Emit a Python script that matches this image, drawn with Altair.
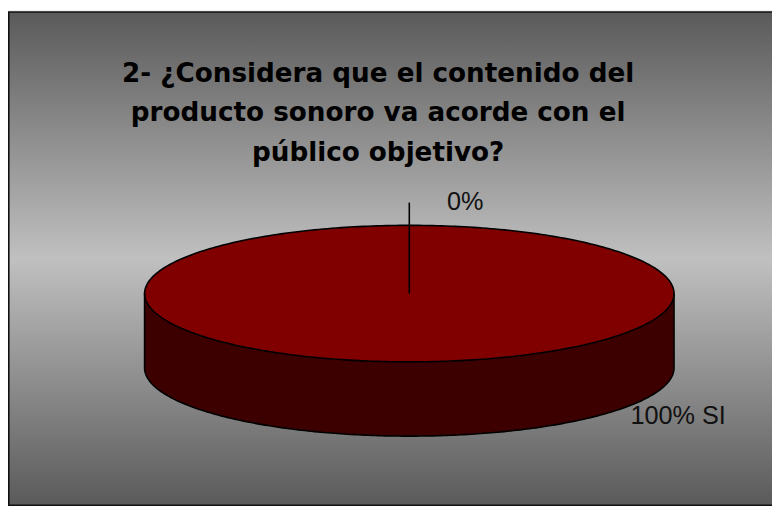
import numpy as np
import pandas as pd
import altair as alt

# ---------------- data ----------------
categories = ["SI", "NO"]
values = [100, 0]
labels = ["100% SI", "0%"]
title_lines = [
    "2- ¿Considera que el contenido del",
    "producto sonoro va acorde con el",
    "público objetivo?",
]

# ---------------- layout / style ----------------
W, H = 772, 498
CX, CY, RX, RY, DEPTH = 405.5, 286.0, 267.5, 69.0, 75.0
TOP_COLORS = {"SI": "#800000", "NO": "#800000"}
SIDE_COLORS = {"SI": "#3c0000", "NO": "#3c0000"}
LABEL_POS = {"SI": (629, 418, "left"), "NO": (462, 202, "center")}
LEADER_EXT = 23

total = float(sum(values))
starts, ends, acc = [], [], 0.0
for v in values:
    starts.append(acc / total * 360.0)
    acc += v
    ends.append(acc / total * 360.0)

xs = alt.Scale(domain=[0, W], nice=False, zero=False)
ys = alt.Scale(domain=[0, H], nice=False, zero=False, reverse=True)

top_rows, side_rows, outline_rows, leader_rows, label_rows = [], [], [], [], []
for cat, s, e, lab in zip(categories, starts, ends, labels):
    sweep = e - s
    if sweep > 0:
        if sweep >= 360:
            th = np.linspace(0, np.pi, 241)
            u = -np.cos(th)
            half = np.sqrt(np.clip(1 - u ** 2, 0, None))
            for ui, hi in zip(u, half):
                top_rows.append({"cat": cat, "fill": TOP_COLORS[cat], "x": CX + RX * ui,
                                 "y": CY - RY * hi, "y2": CY + RY * hi})
            phis = np.linspace(0, 360, 361)
            for k, p in enumerate(phis):
                r = np.radians(p)
                outline_rows.append({"grp": "top", "o": k,
                                     "x": CX + RX * np.sin(r),
                                     "y": CY - RY * np.cos(r)})
        a0, a1 = max(s, 90.0), min(e, 270.0)
        if a1 > a0:
            ph = np.linspace(a0, a1, 241)
            for p in ph:
                r = np.radians(p)
                yt = CY - RY * np.cos(r)
                side_rows.append({"cat": cat, "fill": SIDE_COLORS[cat],
                                  "x": CX + RX * np.sin(r), "y": yt, "y2": yt + DEPTH})
            k = 0
            r0 = np.radians(a0)
            outline_rows.append({"grp": "side", "o": k, "x": CX + RX * np.sin(r0),
                                 "y": CY - RY * np.cos(r0)}); k += 1
            for p in ph:
                r = np.radians(p)
                outline_rows.append({"grp": "side", "o": k, "x": CX + RX * np.sin(r),
                                     "y": CY - RY * np.cos(r) + DEPTH}); k += 1
            r1 = np.radians(a1)
            outline_rows.append({"grp": "side", "o": k, "x": CX + RX * np.sin(r1),
                                 "y": CY - RY * np.cos(r1)})
    else:
        r = np.radians(s)
        leader_rows.append({"x": CX + (RX + LEADER_EXT) * np.sin(r),
                            "y": CY - (RY + LEADER_EXT) * np.cos(r),
                            "x2": CX, "y2": CY})
    lx, ly, al = LABEL_POS[cat]
    label_rows.append({"cat": cat, "text": lab, "x": lx, "y": ly, "align": al})

top_df = pd.DataFrame(top_rows)
side_df = pd.DataFrame(side_rows)
outline_df = pd.DataFrame(outline_rows)
leader_df = pd.DataFrame(leader_rows)
label_df = pd.DataFrame(label_rows)
title_df = pd.DataFrame({"text": title_lines, "i": range(len(title_lines))})
title_df["x"] = 374
title_df["y"] = 72 + 40 * title_df["i"]

grad = alt.Gradient(
    gradient="linear",
    stops=[alt.GradientStop(color="#5a5a5a", offset=0),
           alt.GradientStop(color="#c0c0c0", offset=0.5),
           alt.GradientStop(color="#5a5a5a", offset=1)],
    x1=0, x2=0, y1=0, y2=1,
)

bg = alt.Chart(pd.DataFrame({"a": [0]})).mark_rect(
    fill=grad, stroke="#111111", strokeWidth=1.6
).encode(x=alt.value(0.8), x2=alt.value(W + 20), y=alt.value(1.5), y2=alt.value(H + 2))

side = alt.Chart(side_df).mark_area(strokeWidth=0).encode(
    x=alt.X("x:Q", scale=xs, axis=None),
    y=alt.Y("y:Q", scale=ys, axis=None),
    y2="y2:Q",
    fill=alt.Fill("fill:N", scale=None),
)
top = alt.Chart(top_df).mark_area(strokeWidth=0).encode(
    x=alt.X("x:Q", scale=xs, axis=None),
    y=alt.Y("y:Q", scale=ys, axis=None),
    y2="y2:Q",
    fill=alt.Fill("fill:N", scale=None),
)
outline = alt.Chart(outline_df).mark_line(color="#000000", strokeWidth=1.6).encode(
    x=alt.X("x:Q", scale=xs, axis=None),
    y=alt.Y("y:Q", scale=ys, axis=None),
    detail="grp:N",
    order="o:Q",
)
layers = [bg, side, top, outline]
if len(leader_df):
    leader = alt.Chart(leader_df).mark_rule(color="#000000", strokeWidth=1.6).encode(
        x=alt.X("x:Q", scale=xs, axis=None), x2="x2:Q",
        y=alt.Y("y:Q", scale=ys, axis=None), y2="y2:Q",
    )
    layers.append(leader)

for al in ["left", "center"]:
    sub = label_df[label_df["align"] == al]
    if len(sub):
        layers.append(
            alt.Chart(sub).mark_text(
                align=al, baseline="alphabetic", font="Liberation Sans",
                fontSize=25.5, color="#111111",
            ).encode(
                x=alt.X("x:Q", scale=xs, axis=None),
                y=alt.Y("y:Q", scale=ys, axis=None),
                text="text:N",
            )
        )

title = alt.Chart(title_df).mark_text(
    align="center", baseline="alphabetic", font="DejaVu Sans",
    fontWeight="bold", fontSize=26.5, color="#000000",
).encode(
    x=alt.X("x:Q", scale=xs, axis=None),
    y=alt.Y("y:Q", scale=ys, axis=None),
    text="text:N",
)
layers.append(title)

chart = alt.layer(*layers).properties(
    width=W, height=H, padding=0, autosize=alt.AutoSizeParams(type="none")
).configure_view(stroke=None).configure(background="#ffffff")

chart.save("out.html", embed_options={"renderer": "svg", "actions": False})
